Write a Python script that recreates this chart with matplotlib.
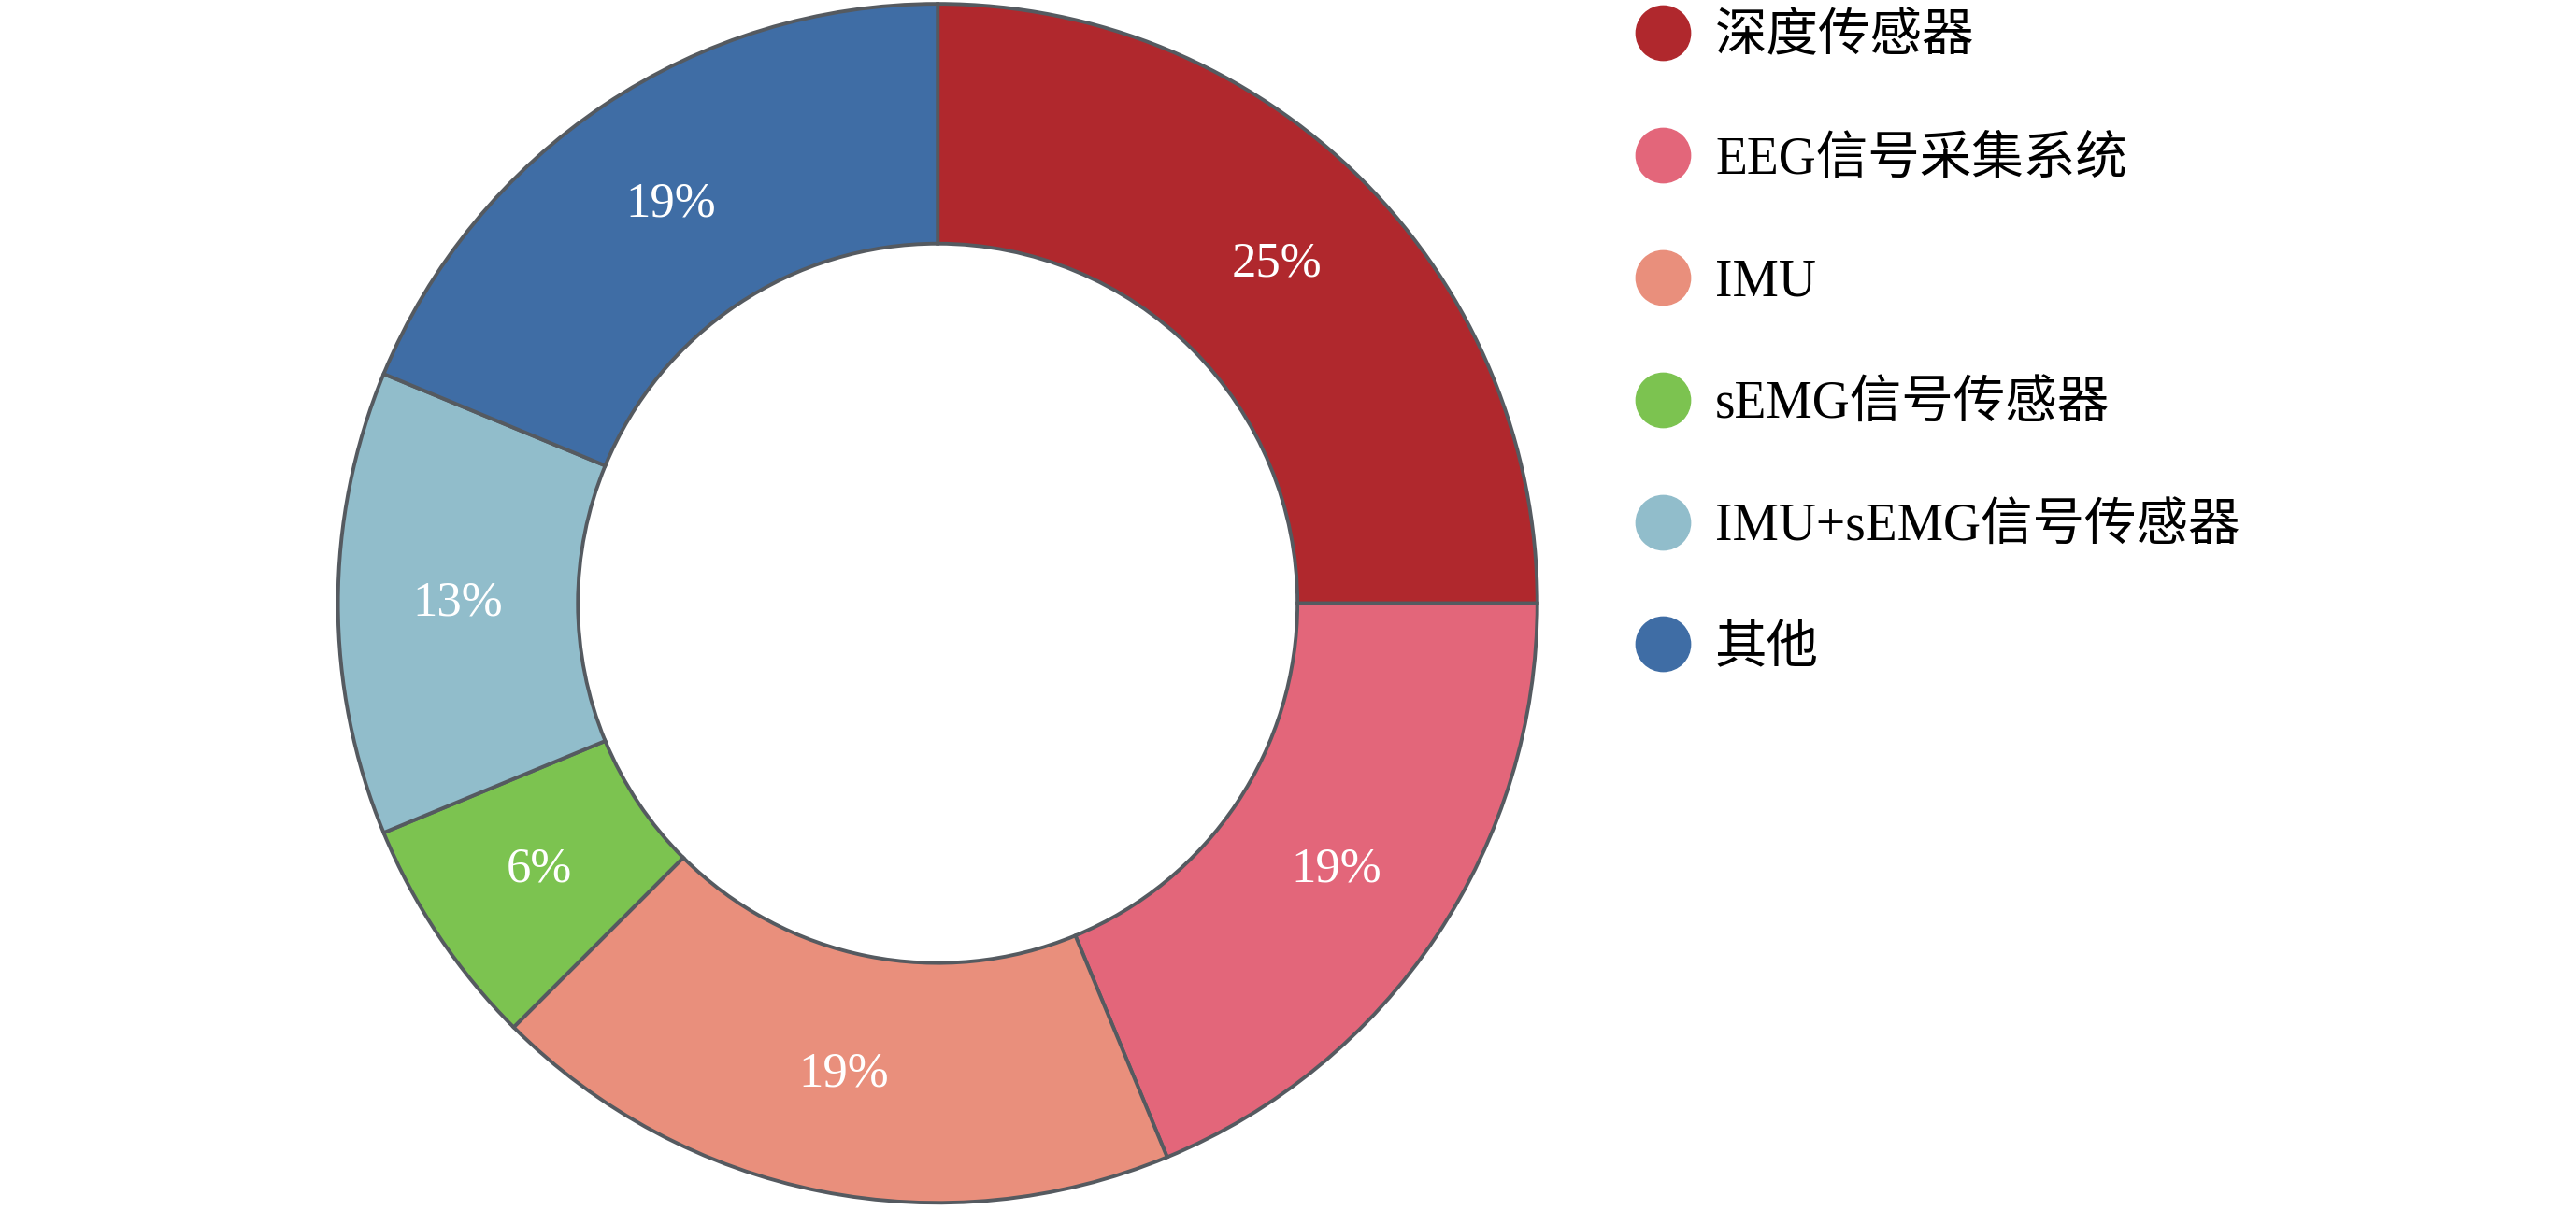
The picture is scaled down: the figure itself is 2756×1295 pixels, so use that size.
import matplotlib
matplotlib.use("Agg")
import matplotlib.pyplot as plt
from matplotlib.lines import Line2D

plt.rcParams['font.family'] = ['Liberation Serif', 'Noto Sans CJK SC']

# data (counts, out of 16)
categories = ["深度传感器", "EEG信号采集系统", "IMU", "sEMG信号传感器", "IMU+sEMG信号传感器", "其他"]
counts = [4, 3, 3, 1, 2, 3]
colors = ["#B0282D", "#E3667A", "#E98F7C", "#7CC350", "#91BDCB", "#3F6DA5"]

fig = plt.figure(figsize=(27.56, 12.95), dpi=100)
ax = fig.add_axes([0.1305, 0.0045, 0.4670, 0.9938])

wedges, texts, autotexts = ax.pie(
    counts,
    colors=colors,
    startangle=90,
    counterclock=False,
    radius=1,
    pctdistance=0.8,
    autopct=lambda p: "%d%%" % int(p + 0.5),
    wedgeprops=dict(width=0.4, edgecolor="#555A60", linewidth=2.8),
    textprops=dict(color="white", fontsize=38),
)
ax.set_xlim(-1.003, 1.003)
ax.set_ylim(-1.003, 1.003)
ax.axis("off")

handles = [Line2D([0], [0], marker="o", linestyle="", markersize=42,
                  markerfacecolor=c, markeredgecolor=c) for c in colors]
fig.legend(handles, categories, loc="upper left", bbox_to_anchor=(0.6265, 1.006),
           frameon=False, fontsize=40, labelspacing=1.42, handletextpad=0.45,
           handlelength=1.1, borderaxespad=0)

fig.savefig("out.png", dpi=100, facecolor="white")
